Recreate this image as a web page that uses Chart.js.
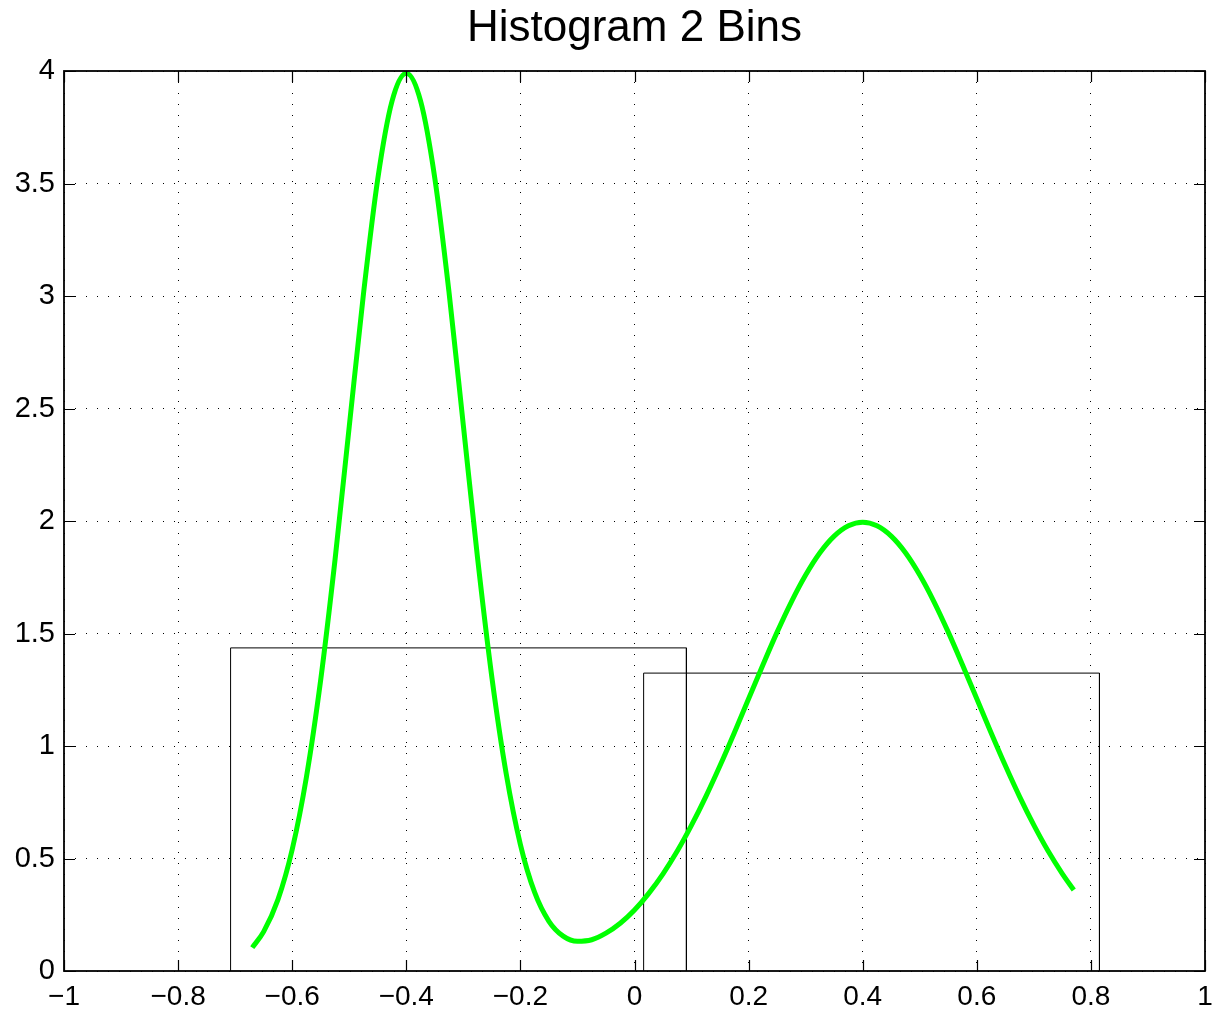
<!DOCTYPE html>
<html><head><meta charset="utf-8">
<script src="https://cdn.jsdelivr.net/npm/chart.js@4/dist/chart.umd.min.js"></script>
<style>html,body{margin:0;padding:0;background:#fff}</style>
</head><body>
<canvas id="c" width="1213" height="1015" style="width:1213px;height:1015px;display:block"></canvas>
<script>
const titleText = 'Histogram 2 Bins';
const curveX = [-0.67, -0.65, -0.625, -0.6, -0.575, -0.55, -0.525, -0.5, -0.475, -0.45, -0.425, -0.4,
  -0.375, -0.35, -0.325, -0.3, -0.275, -0.25, -0.225, -0.2, -0.175, -0.15, -0.125, -0.1,
  -0.075, -0.05, -0.025, 0, 0.025, 0.05, 0.075, 0.1, 0.125, 0.15, 0.175, 0.2,
  0.225, 0.25, 0.275, 0.3, 0.325, 0.35, 0.375, 0.4, 0.425, 0.45, 0.475, 0.5,
  0.525, 0.55, 0.575, 0.6, 0.625, 0.65, 0.675, 0.7, 0.725, 0.75, 0.77];
const curveY = [0.104, 0.175, 0.317, 0.540, 0.863, 1.295, 1.826, 2.420, 3.011, 3.521, 3.866, 3.990,
  3.867, 3.523, 3.014, 2.424, 1.833, 1.305, 0.878, 0.562, 0.349, 0.221, 0.155, 0.132,
  0.139, 0.168, 0.212, 0.271, 0.345, 0.432, 0.533, 0.648, 0.775, 0.913, 1.059, 1.210,
  1.360, 1.506, 1.641, 1.760, 1.859, 1.933, 1.979, 1.995, 1.979, 1.933, 1.859, 1.760,
  1.641, 1.506, 1.360, 1.210, 1.059, 0.913, 0.775, 0.648, 0.533, 0.432, 0.360];
const binLeft = [-0.708, 0.016];
const binRight = [0.091, 0.815];
const binHeight = [1.436, 1.324];
const xTicks = [-1, -0.8, -0.6, -0.4, -0.2, 0, 0.2, 0.4, 0.6, 0.8, 1];
const xTickLabels = ['\u22121', '\u22120.8', '\u22120.6', '\u22120.4', '\u22120.2', '0', '0.2', '0.4', '0.6', '0.8', '1'];
const yTicks = [0, 0.5, 1, 1.5, 2, 2.5, 3, 3.5, 4];
const yTickLabels = ['0', '0.5', '1', '1.5', '2', '2.5', '3', '3.5', '4'];

Chart.defaults.font.family = '"Liberation Sans", Arial, Helvetica, sans-serif';
Chart.defaults.color = '#000';

const curveData = curveX.map((x, i) => ({x: x, y: curveY[i]}));
const binDatasets = binLeft.map((l, i) => ({
  label: 'bin ' + (i + 1),
  data: [{x: l, y: 0}, {x: l, y: binHeight[i]}, {x: binRight[i], y: binHeight[i]}, {x: binRight[i], y: 0}],
  borderColor: '#000', borderWidth: 1, pointRadius: 0, tension: 0, fill: false
}));

const framePlugin = {
  id: 'frame',
  afterDraw(chart) {
    const {ctx, chartArea: a, scales: {x, y}} = chart;
    const L = 11;
    ctx.save();
    ctx.strokeStyle = '#000';
    ctx.lineWidth = 1.2;
    ctx.beginPath();
    xTicks.forEach(v => {
      const p = Math.round(x.getPixelForValue(v)) + 0.5;
      ctx.moveTo(p, a.bottom); ctx.lineTo(p, a.bottom - L);
      ctx.moveTo(p, a.top); ctx.lineTo(p, a.top + L);
    });
    yTicks.forEach(v => {
      const p = Math.round(y.getPixelForValue(v)) + 0.5;
      ctx.moveTo(a.left, p); ctx.lineTo(a.left + L, p);
      ctx.moveTo(a.right, p); ctx.lineTo(a.right - L, p);
    });
    ctx.stroke();
    ctx.lineWidth = 1.8;
    ctx.strokeRect(a.left, a.top, a.right - a.left, a.bottom - a.top);
    ctx.restore();
  }
};

new Chart(document.getElementById('c'), {
  type: 'line',
  data: {
    datasets: [
      {label: 'density', data: curveData, borderColor: '#00ff00', borderWidth: 5,
       pointRadius: 0, fill: false, cubicInterpolationMode: 'monotone', borderCapStyle: 'butt'},
      ...binDatasets
    ]
  },
  options: {
    responsive: false,
    animation: false,
    devicePixelRatio: 1,
    layout: {padding: {left: 0, right: 8, top: 0, bottom: 0}},
    plugins: {
      legend: {display: false},
      tooltip: {enabled: false},
      title: {display: true, fullSize: false, text: titleText, color: '#000',
        font: {size: 44, weight: 'normal'}, padding: {top: 2.8, bottom: 15.4}}
    },
    scales: {
      x: {
        type: 'linear', min: -1, max: 1,
        afterBuildTicks: s => { s.ticks = xTicks.map(v => ({value: v})); },
        afterFit: s => { s.height = 44; s.paddingLeft = 0; s.paddingRight = 0; },
        ticks: {callback: (v, i) => xTickLabels[i], autoSkip: false, maxRotation: 0,
          font: {size: 28}, color: '#000', padding: 9},
        grid: {color: '#000', lineWidth: 1, drawTicks: false},
        border: {display: false, dash: [1, 10]}
      },
      y: {
        type: 'linear', min: 0, max: 4,
        afterBuildTicks: s => { s.ticks = yTicks.map(v => ({value: v})); },
        afterFit: s => { s.width = 64; s.paddingTop = 0; s.paddingBottom = 0; },
        ticks: {callback: (v, i) => yTickLabels[i], autoSkip: false,
          font: {size: 29}, color: '#000', padding: 9},
        grid: {color: '#000', lineWidth: 1, drawTicks: false},
        border: {display: false, dash: [1, 10]}
      }
    }
  },
  plugins: [framePlugin]
});
</script>
</body></html>
